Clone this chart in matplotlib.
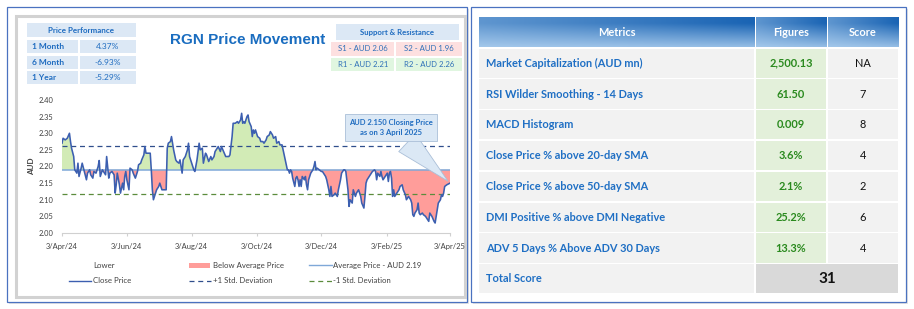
import matplotlib
matplotlib.use("Agg")
import matplotlib.pyplot as plt
import matplotlib.patches as mpatches
from matplotlib.lines import Line2D
from matplotlib.colors import to_rgb
import matplotlib.dates as mdates
import numpy as np
import pandas as pd

# ---------------- data ----------------
start_date = "2024-04-03"
day_offsets = [0,1,3,5,7,8,9,11,12,14,15,16,18,19,21,23,24,26,27,29,30,32,34,35,36,38,39,41,42,44,
               45,47,49,50,51,52,54,55,57,58,59,60,61,63,64,66,67,69,71,72,74,75,77,78,79,82,83,84,85,86,
               88,89,91,92,94,98,99,100,102,103,105,107,108,110,111,113,114,116,118,119,120,121,123,124,125,127,129,130,132,133,
               135,136,138,140,141,143,144,146,147,149,150,152,154,157,158,160,161,163,165,166,168,169,170,171,172,174,175,176,178,179,
               180,181,182,184,186,187,189,190,192,193,195,196,197,198,199,201,202,204,205,207,208,210,212,213,214,215,216,217,219,220,
               221,222,223,224,225,226,228,229,230,231,232,234,235,236,237,238,239,240,242,244,245,247,248,249,251,252,253,254,256,257,
               259,260,262,263,265,266,267,269,270,271,273,274,276,277,279,281,282,284,285,286,287,289,291,292,294,295,296,297,299,300,
               301,302,304,306,307,308,309,310,311,312,313,315,317,318,320,321,323,324,326,328,329,330,331,332,334,335,336,337,339,340,
               342,343,345,346,348,350,351,352,353,354,356,357,358,359,360,362,365]
close_prices = [2.270,2.285,2.280,2.285,2.300,2.275,2.255,2.230,2.190,2.180,2.210,2.170,2.195,2.210,2.185,2.160,2.180,2.190,2.175,2.165,
                2.185,2.180,2.200,2.218,2.170,2.190,2.185,2.175,2.230,2.165,2.180,2.185,2.175,2.120,2.145,2.180,2.145,2.120,2.150,2.130,
                2.170,2.185,2.160,2.130,2.195,2.190,2.180,2.165,2.185,2.205,2.210,2.220,2.235,2.260,2.240,2.240,2.240,2.190,2.130,2.100,
                2.120,2.130,2.140,2.150,2.130,2.130,2.255,2.270,2.275,2.290,2.250,2.220,2.215,2.210,2.220,2.180,2.220,2.230,2.250,2.270,
                2.230,2.220,2.200,2.190,2.185,2.220,2.270,2.250,2.255,2.210,2.240,2.235,2.215,2.230,2.220,2.230,2.245,2.255,2.260,2.245,
                2.260,2.245,2.230,2.230,2.235,2.290,2.330,2.330,2.335,2.330,2.340,2.360,2.330,2.335,2.330,2.350,2.355,2.335,2.320,2.290,
                2.310,2.300,2.310,2.290,2.285,2.275,2.275,2.270,2.280,2.290,2.295,2.305,2.300,2.295,2.285,2.290,2.270,2.275,2.265,2.265,
                2.250,2.220,2.190,2.190,2.180,2.190,2.185,2.165,2.140,2.165,2.170,2.160,2.140,2.160,2.140,2.170,2.160,2.170,2.145,2.130,
                2.160,2.180,2.185,2.190,2.200,2.215,2.190,2.195,2.190,2.185,2.185,2.175,2.170,2.160,2.130,2.110,2.140,2.110,2.115,2.120,
                2.110,2.130,2.160,2.180,2.190,2.190,2.185,2.130,2.080,2.100,2.090,2.130,2.110,2.120,2.130,2.110,2.090,2.075,2.110,2.150,
                2.160,2.170,2.180,2.185,2.190,2.185,2.160,2.180,2.170,2.185,2.170,2.160,2.170,2.180,2.155,2.180,2.185,2.165,2.110,2.130,
                2.110,2.120,2.130,2.140,2.145,2.130,2.115,2.100,2.110,2.100,2.090,2.055,2.050,2.060,2.070,2.090,2.060,2.055,2.060,2.055,
                2.050,2.045,2.035,2.060,2.050,2.035,2.030,2.050,2.070,2.090,2.100,2.115,2.110,2.120,2.140,2.145,2.150]
if len(day_offsets) != len(close_prices):
    raise ValueError(f"length mismatch {len(day_offsets)} vs {len(close_prices)}")

avg_price = 2.19
plus_std = 2.262
minus_std = 2.118
y_ticks = [2.00, 2.05, 2.10, 2.15, 2.20, 2.25, 2.30, 2.35, 2.40]
x_tick_dates = ["2024-04-03", "2024-06-03", "2024-08-03", "2024-10-03", "2024-12-03", "2025-02-03", "2025-04-03"]

chart_title = "RGN Price Movement"
perf_header = "Price Performance"
perf_labels = ["1 Month", "6 Month", "1 Year"]
perf_values = ["4.37%", "-6.93%", "-5.29%"]
sr_header = "Support & Resistance"
support_labels = ["S1 - AUD 2.06", "S2 - AUD 1.96"]
resistance_labels = ["R1 - AUD 2.21", "R2 - AUD 2.26"]
closing_note = "AUD 2.150 Closing Price\nas on 3 April 2025"

legend_row1 = ["Lower", "Below Average Price", "Average Price - AUD 2.19"]
legend_row2 = ["Close Price", "+1 Std. Deviation", "-1 Std. Deviation"]

table_headers = ["Metrics", "Figures", "Score"]
metric_names = ["Market Capitalization (AUD mn)", "RSI Wilder Smoothing - 14 Days", "MACD Histogram",
                "Close Price % above 20-day SMA", "Close Price % above 50-day SMA",
                "DMI Positive % above DMI Negative", "ADV 5 Days % Above ADV 30 Days"]
metric_figures = ["2,500.13", "61.50", "0.009", "3.6%", "2.1%", "25.2%", "13.3%"]
metric_scores = ["NA", "7", "8", "4", "2", "6", "4"]
total_label = "Total Score"
total_score = "31"

# ---------------- styles ----------------
W, H = 914, 309
CAL = ["Lato", "DejaVu Sans"]
ARI = ["Liberation Sans", "DejaVu Sans"]
BLUE_TXT = "#1f6cc0"
GREEN_FILL = "#d2ebb6"
RED_FILL = "#ff9d9a"
LINE_BLUE = "#3c5fb0"
AVG_BLUE = "#7fa8d8"

fig = plt.figure(figsize=(W / 100, H / 100), dpi=100)
fig.patch.set_facecolor("white")

ov = fig.add_axes([0, 0, 1, 1], zorder=0)
ov.set_xlim(0, W)
ov.set_ylim(H, 0)
ov.axis("off")


def rect(x, y, w, h, fc="none", ec="none", lw=0.0, z=1):
    ov.add_patch(mpatches.Rectangle((x, y), w, h, facecolor=fc, edgecolor=ec, linewidth=lw, zorder=z))


# panel frames (with light shadow)
for x0, w in [(7, 460), (471, 435)]:
    rect(x0 + 1.5, 8.5, w, 295, fc="#e4e4e4", z=0.5)
    rect(x0, 7, w, 295, fc="white", ec="#4a72c0", lw=0.9, z=0.6)
rect(15.5, 15.5, 449, 281.5, ec="#d2d2d2", lw=2.2, z=0.7)

# ---------- Price performance table ----------
rect(27, 23, 109, 14, fc="#dce8f5", z=1)
ov.text(81.5, 30.2, perf_header, ha="center", va="center", fontsize=5.8, fontweight="bold",
        color=BLUE_TXT, family=CAL, zorder=2)
for i, (lab, val) in enumerate(zip(perf_labels, perf_values)):
    y0 = 40 + i * 15.5
    rect(27, y0, 51, 13.3, fc="#dce8f5", z=1)
    rect(80, y0, 56, 13.3, fc="#dce8f5", z=1)
    ov.text(32.5, y0 + 6.8, lab, ha="left", va="center", fontsize=6.0, fontweight="bold",
            color=BLUE_TXT, family=CAL, zorder=2)
    ov.text(108, y0 + 6.8, val, ha="center", va="center", fontsize=6.0,
            color=BLUE_TXT, family=CAL, zorder=2)

# ---------- title ----------
ov.text(247.5, 40, chart_title, ha="center", va="center", fontsize=11.0, fontweight="bold",
        color="#1a6dc0", family=ARI, zorder=2)

# ---------- Support & resistance ----------
rect(336, 24, 123, 16, fc="#dce8f5", z=1)
ov.text(397.5, 32.5, sr_header, ha="center", va="center", fontsize=5.6, fontweight="bold",
        color=BLUE_TXT, family=CAL, zorder=2)
for j, (labs, fc) in enumerate([(support_labels, "#fde0e0"), (resistance_labels, "#e0f6e0")]):
    y0 = 42 + j * 15.5
    rect(331, y0, 63, 13.5, fc=fc, z=1)
    rect(396, y0, 66, 13.5, fc=fc, z=1)
    ov.text(363, y0 + 6.9, labs[0], ha="center", va="center", fontsize=5.6, color="#2e6fb8",
            family=CAL, zorder=2)
    ov.text(429, y0 + 6.9, labs[1], ha="center", va="center", fontsize=5.6, color="#2e6fb8",
            family=CAL, zorder=2)

# ---------- chart ----------
ax_l, ax_r, ax_t, ax_b = 62, 450, 100, 233
ax = fig.add_axes([ax_l / W, 1 - ax_b / H, (ax_r - ax_l) / W, (ax_b - ax_t) / H], zorder=2)
ax.patch.set_alpha(0)
dates = pd.Timestamp(start_date) + pd.to_timedelta(day_offsets, unit="D")
xn = mdates.date2num(dates.to_pydatetime())
yv = np.array(close_prices)
ax.fill_between(xn, yv, avg_price, where=yv >= avg_price, interpolate=True, color=GREEN_FILL, lw=0, zorder=1)
ax.fill_between(xn, yv, avg_price, where=yv <= avg_price, interpolate=True, color=RED_FILL, lw=0, zorder=1)
ax.axhline(avg_price, color=AVG_BLUE, lw=1.1, zorder=2)
ax.axhline(plus_std, color="#2f4e8c", lw=0.9, ls=(0, (4, 3)), zorder=2)
ax.axhline(minus_std, color="#5b8c3c", lw=0.9, ls=(0, (4, 3)), zorder=2)
ax.plot(xn, yv, color=LINE_BLUE, lw=1.15, zorder=3)

xt = mdates.date2num(pd.to_datetime(x_tick_dates).to_pydatetime())
ax.set_xlim(xt[0], xt[-1])
ax.set_ylim(y_ticks[0], y_ticks[-1])
ax.set_yticks(y_ticks)
ax.set_yticklabels([f"{v:.2f}" for v in y_ticks])
ax.set_xticks(xt)
ax.set_xticklabels([f"{d.day}/{d:%b/%y}" for d in pd.to_datetime(x_tick_dates)])
for lab in ax.get_xticklabels() + ax.get_yticklabels():
    lab.set_fontfamily(CAL)
    lab.set_fontsize(5.4)
    lab.set_color("#404040")
ax.tick_params(axis="y", length=0, pad=6)
ax.tick_params(axis="x", length=2, pad=5, color="#d0d0d0")
for s in ["top", "right", "left"]:
    ax.spines[s].set_visible(False)
ax.spines["bottom"].set_color("#d0d0d0")
ax.spines["bottom"].set_linewidth(0.8)
ax.set_ylabel("AUD", fontsize=5.8, fontweight="bold", family=CAL, color="#404040", labelpad=3)

ax.annotate(closing_note, xy=(xn[-1], close_prices[-1]), xycoords="data",
            xytext=(391 / W, 1 - 127.5 / H), textcoords="figure fraction",
            ha="center", va="center", fontsize=5.5, fontweight="bold", color=BLUE_TXT, family=CAL,
            linespacing=1.6,
            bbox=dict(boxstyle="square,pad=0.55", fc="#dbe8f5", ec="#aabfd8", lw=0.6),
            arrowprops=dict(arrowstyle="wedge,tail_width=2.2,shrink_factor=0.5", fc="#dbe8f5",
                            ec="#aabfd8", lw=0.6, mutation_scale=8),
            zorder=5)

# ---------- legend (manual) ----------
hx = [69, 189, 309]
tx = [93, 213, 333]
rows_y = [265.3, 280.7]
for c in range(3):
    ov.text(tx[c], rows_y[0], legend_row1[c], ha="left", va="center", fontsize=5.6, color="#404040",
            family=CAL, zorder=2)
    ov.text(tx[c], rows_y[1], legend_row2[c], ha="left", va="center", fontsize=5.6, color="#404040",
            family=CAL, zorder=2)
rect(hx[1], rows_y[0] - 2.2, 21, 4.4, fc=RED_FILL, z=2)
ov.add_line(Line2D([hx[2], hx[2] + 23], [rows_y[0]] * 2, color=AVG_BLUE, lw=1.0, zorder=2))
ov.add_line(Line2D([hx[0], hx[0] + 22], [rows_y[1]] * 2, color=LINE_BLUE, lw=1.0, zorder=2))
ov.add_line(Line2D([hx[1], hx[1] + 22], [rows_y[1]] * 2, color="#2f4e8c", lw=0.9, ls=(0, (4, 3)), zorder=2))
ov.add_line(Line2D([hx[2], hx[2] + 23], [rows_y[1]] * 2, color="#5b8c3c", lw=0.9, ls=(0, (4, 3)), zorder=2))

# ---------- metrics table ----------
col_x = [478, 755, 827, 899]
row_h = 30.8
top = 17
gap = 0.8


def grad_cell(x0, y0, x1, y1):
    ny, nx = 40, 80
    v = np.linspace(0, 1, ny)[:, None]
    h = np.linspace(0, 1, nx)[None, :]
    d = np.clip(1.2 - v * 1.0, 0, 1) * (0.55 + 0.45 * h)
    dark = np.array(to_rgb("#1a64b4"))
    light = np.array(to_rgb("#b3d3f1"))
    img = light + (dark - light) * np.clip(d, 0, 1)[..., None]
    ov.imshow(img, extent=(x0, x1, y1, y0), aspect="auto", zorder=1, interpolation="bilinear")


for c in range(3):
    grad_cell(col_x[c] + gap, top, col_x[c + 1] - gap, top + row_h - gap)
    ov.text((col_x[c] + col_x[c + 1]) / 2, top + row_h / 2, table_headers[c], ha="center", va="center",
            fontsize=7.9, fontweight="bold", color="white", family=CAL, zorder=3)

for r in range(len(metric_names)):
    y0 = top + (r + 1) * row_h
    rect(col_x[0] + gap, y0 + gap, col_x[1] - col_x[0] - 2 * gap, row_h - 2 * gap, fc="#f2f2f2", z=1)
    rect(col_x[1] + gap, y0 + gap, col_x[2] - col_x[1] - 2 * gap, row_h - 2 * gap, fc="#e3f0da", z=1)
    rect(col_x[2] + gap, y0 + gap, col_x[3] - col_x[2] - 2 * gap, row_h - 2 * gap, fc="#f2f2f2", z=1)
    yc = y0 + row_h / 2
    ov.text(486, yc, metric_names[r], ha="left", va="center", fontsize=7.9, fontweight="bold",
            color="#1f6fc4", family=CAL, zorder=3)
    ov.text((col_x[1] + col_x[2]) / 2, yc, metric_figures[r], ha="center", va="center", fontsize=7.9,
            fontweight="bold", color="#2a8a1e", family=CAL, zorder=3)
    ov.text((col_x[2] + col_x[3]) / 2, yc, metric_scores[r], ha="center", va="center", fontsize=7.9,
            color="#111111", family=CAL, zorder=3)

y0 = top + 8 * row_h
rect(col_x[0] + gap, y0 + gap, col_x[1] - col_x[0] - 2 * gap, row_h - 2 * gap, fc="#f2f2f2", z=1)
rect(col_x[1] + gap, y0 + gap, col_x[3] - col_x[1] - 2 * gap, row_h - 2 * gap, fc="#d9d9d9", z=1)
ov.text(486, y0 + row_h / 2, total_label, ha="left", va="center", fontsize=7.9, fontweight="bold",
        color="#1f6fc4", family=CAL, zorder=3)
ov.text(col_x[2], y0 + row_h / 2, total_score, ha="center", va="center", fontsize=11, fontweight="bold",
        color="#111111", family=CAL, zorder=3)

ov.set_xlim(0, W)
ov.set_ylim(H, 0)
fig.savefig("out.png", dpi=100, facecolor="white")
